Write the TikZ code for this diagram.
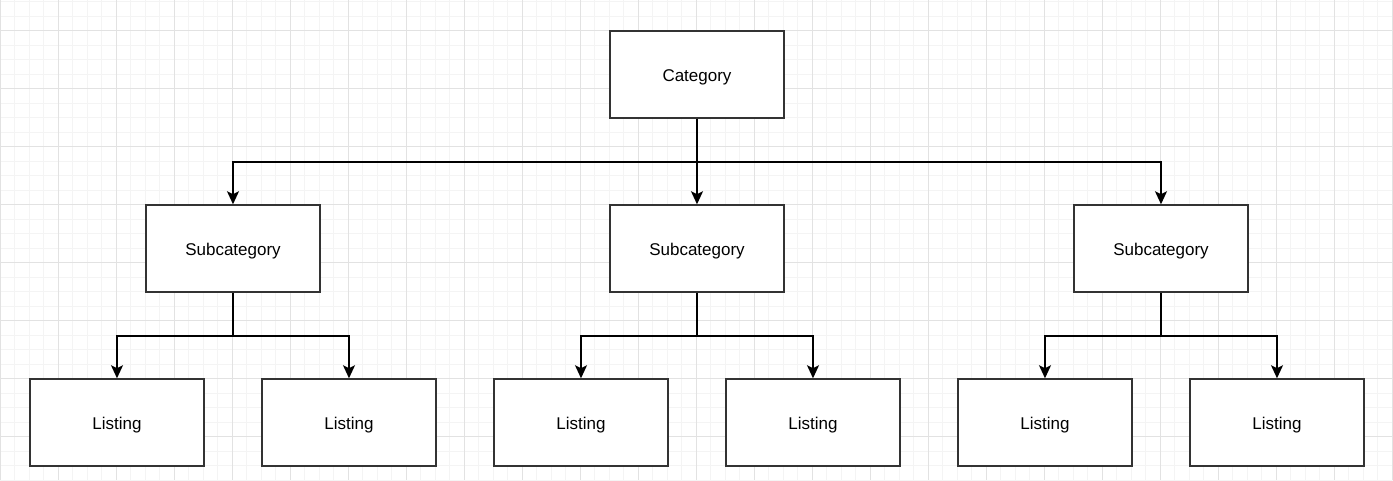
\documentclass[tikz,border=0pt]{standalone}
\usepackage{fontspec}
\setmainfont{Liberation Sans}
\usetikzlibrary{arrows.meta}
\definecolor{gridminor}{HTML}{F4F4F4}
\definecolor{gridmajor}{HTML}{E2E2E2}
\definecolor{boxline}{HTML}{333333}
\tikzset{
  box/.style={draw=boxline, line width=1.5pt, fill=white, rectangle,
    minimum width=174pt, minimum height=87pt, inner sep=0pt,
    text height=13.6pt, text depth=0pt,
    font=\fontsize{17}{19}\selectfont},
  conn/.style={draw=black, line width=1.6pt,
    -{Stealth[length=13pt,width=12pt,inset=3pt]}},
}
\begin{document}
\begin{tikzpicture}[x=1pt,y=-1pt]
\useasboundingbox (0,0) rectangle (1393,480);
\fill[white] (0,0) rectangle (1393,480);
% grid
\foreach \i in {0,...,96}{
  \pgfmathsetmacro\xx{0.3+14.5*\i}
  \draw[gridminor, line width=1pt] (\xx,0) -- (\xx,480);
}
\foreach \k in {0,...,33}{
  \pgfmathsetmacro\yy{1.7+14.5*\k}
  \draw[gridminor, line width=1pt] (0,\yy) -- (1393,\yy);
}
\foreach \i in {0,4,...,96}{
  \pgfmathsetmacro\xx{0.3+14.5*\i}
  \draw[gridmajor, line width=1pt] (\xx,0) -- (\xx,480);
}
\foreach \k in {2,6,...,34}{
  \pgfmathsetmacro\yy{1.7+14.5*\k}
  \draw[gridmajor, line width=1pt] (0,\yy) -- (1393,\yy);
}
% nodes
\node[box] (cat) at (697,74.5) {Category};
\node[box] (s1) at (233,248.5) {Subcategory};
\node[box] (s2) at (697,248.5) {Subcategory};
\node[box] (s3) at (1161,248.5) {Subcategory};
\node[box] (l1) at (117,422.5) {Listing};
\node[box] (l2) at (349,422.5) {Listing};
\node[box] (l3) at (581,422.5) {Listing};
\node[box] (l4) at (813,422.5) {Listing};
\node[box] (l5) at (1045,422.5) {Listing};
\node[box] (l6) at (1277,422.5) {Listing};
% connectors
\draw[conn] (cat.south) -- ++(0,43.5) -| (s1.north);
\draw[conn] (cat.south) -- (s2.north);
\draw[conn] (cat.south) -- ++(0,43.5) -| (s3.north);
\draw[conn] (s1.south) -- ++(0,43.5) -| (l1.north);
\draw[conn] (s1.south) -- ++(0,43.5) -| (l2.north);
\draw[conn] (s2.south) -- ++(0,43.5) -| (l3.north);
\draw[conn] (s2.south) -- ++(0,43.5) -| (l4.north);
\draw[conn] (s3.south) -- ++(0,43.5) -| (l5.north);
\draw[conn] (s3.south) -- ++(0,43.5) -| (l6.north);
\end{tikzpicture}
\end{document}
